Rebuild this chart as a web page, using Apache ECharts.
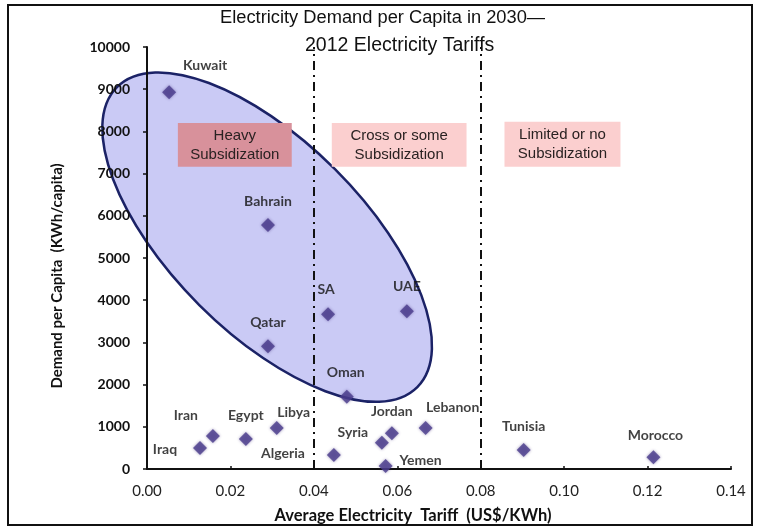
<!DOCTYPE html>
<html>
<head>
<meta charset="utf-8">
<script src="https://cdn.jsdelivr.net/npm/echarts@6/dist/echarts.min.js"></script>
<style>
  html, body { margin: 0; padding: 0; background: #fff; }
  #chart { width: 757px; height: 529px; }
</style>
</head>
<body>
<div id="chart"></div>
<script>
// Country tariffs (US$/kWh, 2012) and projected demand per capita (kWh, 2030)
const countries = ['Kuwait', 'Bahrain', 'Qatar', 'SA', 'UAE', 'Oman', 'Iraq', 'Iran', 'Egypt', 'Libya',
                   'Algeria', 'Syria', 'Jordan', 'Yemen', 'Lebanon', 'Tunisia', 'Morocco'];
const tariffs = [0.0053, 0.029, 0.029, 0.0434, 0.0623, 0.0479, 0.0127, 0.0158, 0.0237, 0.0311,
                 0.0448, 0.0563, 0.0587, 0.0572, 0.0668, 0.0903, 0.1214];
const demand = [8930, 5780, 2910, 3670, 3740, 1710, 500, 780, 710, 970,
                330, 620, 850, 70, 970, 450, 280];

// Axis tick labels
const xTickLabels = ['0.00', '0.02', '0.04', '0.06', '0.08', '0.10', '0.12', '0.14'];
const yTickLabels = ['0', '1000', '2000', '3000', '4000', '5000', '6000', '7000', '8000', '9000', '10000'];

// Tariff thresholds separating the subsidy regimes
const regimeBounds = [0.039, 0.08];
const regimeNames = ['Heavy\nSubsidization', 'Cross or some\nSubsidization', 'Limited or no\nSubsidization'];
// Regime caption boxes: [x0, y0, x1, y1] in data units
const regimeBoxes = [
  [0.0074, 8200, 0.0347, 7160],
  [0.0443, 8200, 0.0766, 7160],
  [0.0857, 8230, 0.1135, 7160]
];
const regimeFills = ['#d8919b', '#fbcfcf', '#fbcfcf'];

// Oil-exporter cluster: ends of the ellipse's long axis (data units), half-width in px
const clusterAxis = [[-0.0072, 9050], [0.0648, 1940]];
const clusterHalfWidth = 96;

// Label placement around each marker (px offset of label centre from marker centre)
const labelOffsets = {
  Kuwait: [36, -27], Bahrain: [0, -24], Qatar: [0, -24], SA: [-2, -25], UAE: [0, -25],
  Oman: [-1, -24], Iraq: [-35, 2], Iran: [-27, -21], Egypt: [0, -24], Libya: [17, -16],
  Algeria: [-51, -2], Syria: [-29, -10], Jordan: [0, -22], Yemen: [35, -6],
  Lebanon: [27, -21], Tunisia: [0, -24], Morocco: [2, -22]
};

const chart = echarts.init(document.getElementById('chart'), null, { renderer: 'canvas' });

const points = countries.map((name, i) => ({
  name: name,
  value: [tariffs[i], demand[i]],
  label: { offset: labelOffsets[name] }
}));

const labelFont = 'Lato, "DejaVu Sans", sans-serif';
const titleFont = '"Liberation Sans", Arial, sans-serif';

chart.setOption({
  backgroundColor: '#ffffff',
  animation: false,
  title: [
    {
      text: 'Electricity Demand per Capita in 2030\u2014',
      left: 215, top: 4,
      textStyle: { fontFamily: titleFont, fontSize: 18.3, fontWeight: 'normal', color: '#111' }
    },
    {
      text: '2012 Electricity Tariffs',
      left: 300, top: 31,
      textStyle: { fontFamily: titleFont, fontSize: 19.5, fontWeight: 'normal', color: '#111' }
    }
  ],
  grid: { left: 147, right: 26, top: 47, bottom: 60 },
  xAxis: {
    type: 'value', min: 0, max: 0.14, interval: 0.02,
    name: 'Average Electricity  Tariff  (US$/KWh)',
    nameLocation: 'middle', nameGap: 38,
    nameTextStyle: { fontFamily: labelFont, fontWeight: 'bold', fontSize: 16.5, color: '#111', padding: [0, 52, 0, 0] },
    axisLine: { lineStyle: { color: '#111', width: 2 } },
    axisTick: { inside: true, length: 3, lineStyle: { color: '#111', width: 1.5 } },
    axisLabel: {
      margin: 15, fontFamily: labelFont, fontSize: 15, color: '#222',
      formatter: (v, i) => xTickLabels[i]
    },
    splitLine: { show: false }
  },
  yAxis: {
    type: 'value', min: 0, max: 10000, interval: 1000,
    name: 'Demand per Capita  (KWh/capita)',
    nameLocation: 'middle', nameGap: 82, nameRotate: 90,
    nameTextStyle: { fontFamily: labelFont, fontWeight: 'bold', fontSize: 15, color: '#111', padding: [0, 36, 0, 0] },
    axisLine: { show: true, lineStyle: { color: '#111', width: 2 } },
    axisTick: { show: true, length: 4, lineStyle: { color: '#111', width: 1.5 } },
    axisLabel: {
      margin: 17, fontFamily: labelFont, fontWeight: 'bold', fontSize: 14, color: '#111',
      formatter: (v, i) => yTickLabels[i]
    },
    splitLine: { show: false }
  },
  series: [{
    type: 'scatter',
    symbol: 'diamond',
    symbolSize: 14,
    z: 3,
    itemStyle: { color: '#4a3c8c', shadowBlur: 3, shadowColor: 'rgba(60,40,120,0.6)' },
    label: {
      show: true, position: 'inside',
      formatter: p => p.name,
      fontFamily: labelFont, fontWeight: 'bold', fontSize: 14, color: '#111'
    },
    data: points,
    markLine: {
      silent: true,
      symbol: 'none',
      label: { show: false },
      lineStyle: { color: '#111', width: 2, type: [9, 5, 2, 5] },
      data: regimeBounds.map(x => ({ xAxis: x }))
    }
  }]
});

// Annotations anchored to data coordinates
function placeAnnotations() {
  const px = p => chart.convertToPixel({ gridIndex: 0 }, p);
  const a = px(clusterAxis[0]);
  const b = px(clusterAxis[1]);
  const cx = (a[0] + b[0]) / 2, cy = (a[1] + b[1]) / 2;
  const rx = Math.hypot(b[0] - a[0], b[1] - a[1]) / 2;
  const ang = Math.atan2(b[1] - a[1], b[0] - a[0]);

  const elements = [
    {
      type: 'ellipse', z: 0, silent: true,
      x: cx, y: cy, rotation: -ang,
      shape: { cx: 0, cy: 0, rx: rx, ry: clusterHalfWidth },
      style: { fill: 'rgba(150,150,235,0.5)', stroke: '#1b2266', lineWidth: 2.5 }
    },
    {
      type: 'rect', z: 10, silent: true,
      shape: { x: 8, y: 5, width: 744, height: 520 },
      style: { fill: 'none', stroke: '#111', lineWidth: 2 }
    }
  ];

  regimeBoxes.forEach((box, i) => {
    const p0 = px([box[0], box[1]]);
    const p1 = px([box[2], box[3]]);
    elements.push({
      type: 'rect', z: 1, silent: true,
      shape: { x: p0[0], y: p0[1], width: p1[0] - p0[0], height: p1[1] - p0[1] },
      style: { fill: regimeFills[i] }
    });
    elements.push({
      type: 'text', z: 2, silent: true,
      x: (p0[0] + p1[0]) / 2, y: (p0[1] + p1[1]) / 2,
      style: {
        text: regimeNames[i], align: 'center', verticalAlign: 'middle',
        font: '15px "Liberation Sans", Arial, sans-serif', lineHeight: 19, fill: '#2a2222'
      }
    });
  });

  chart.setOption({ graphic: { elements: elements } });
}
placeAnnotations();
</script>
</body>
</html>
